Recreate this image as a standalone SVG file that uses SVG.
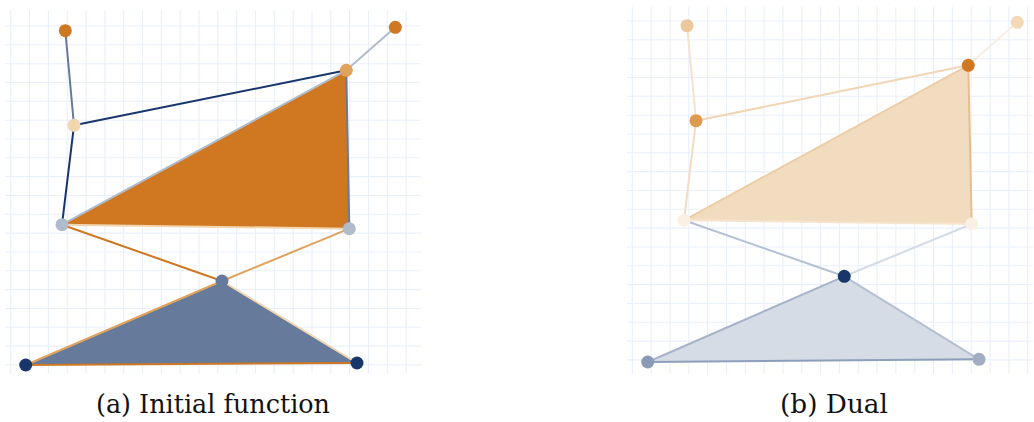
<svg xmlns="http://www.w3.org/2000/svg" width="1034" height="422" viewBox="0 0 1034 422">
<style>
.grid{fill:none;stroke:#e9f0fb;stroke-width:1.1}
.e{fill:none;stroke-width:2;stroke-linecap:round}
</style>
<rect width="1034" height="422" fill="#fff"/>
<g id="grid-a" class="grid">
<path d="M10.7 10V374M29.5 10V374M48.4 10V374M67.2 10V374M86 10V374M104.9 10V374M123.7 10V374M142.5 10V374M161.3 10V374M180.2 10V374M199 10V374M217.8 10V374M236.7 10V374M255.5 10V374M274.3 10V374M293.2 10V374M312 10V374M330.8 10V374M349.6 10V374M368.5 10V374M387.3 10V374M406.1 10V374"/>
<path d="M5 26H421M5 44.8H421M5 63.7H421M5 82.5H421M5 101.3H421M5 120.2H421M5 139H421M5 157.8H421M5 176.6H421M5 195.5H421M5 214.3H421M5 233.1H421M5 252H421M5 270.8H421M5 289.6H421M5 308.5H421M5 327.3H421M5 346.1H421M5 364.9H421"/>
</g>
<g id="grid-b" class="grid">
<path d="M632.3 6.7V374M651.1 6.7V374M670 6.7V374M688.8 6.7V374M707.6 6.7V374M726.5 6.7V374M745.3 6.7V374M764.1 6.7V374M782.9 6.7V374M801.8 6.7V374M820.6 6.7V374M839.4 6.7V374M858.3 6.7V374M877.1 6.7V374M895.9 6.7V374M914.8 6.7V374M933.6 6.7V374M952.4 6.7V374M971.2 6.7V374M990.1 6.7V374M1008.9 6.7V374M1027.7 6.7V374"/>
<path d="M627 21H1033M627 39.8H1033M627 58.7H1033M627 77.5H1033M627 96.3H1033M627 115.2H1033M627 134H1033M627 152.8H1033M627 171.6H1033M627 190.5H1033M627 209.3H1033M627 228.1H1033M627 247H1033M627 265.8H1033M627 284.6H1033M627 303.5H1033M627 322.3H1033M627 341.1H1033M627 359.9H1033"/>
</g>
<g id="faces">
<polygon id="face-a1" points="346.3,70.3 62,224.7 349.3,228.7" fill="#cf7721"/>
<polygon id="face-a2" points="222,281 25.7,365 357,363" fill="#667a9b"/>
<polygon id="face-b1" points="968.3,65.3 684,220.3 971.7,224" fill="#f2dcc0"/>
<polygon id="face-b2" points="844.3,276.3 647.7,362 979,359.3" fill="#d5dce6"/>
</g>
<g id="connectors">
<line class="e" x1="65.3" y1="30.7" x2="74" y2="125.3" stroke="#667a9b"/>
<line class="e" x1="395.3" y1="27.3" x2="346.3" y2="70.3" stroke="#b0bccc"/>
<line class="e" x1="74" y1="125.3" x2="346.3" y2="70.3" stroke="#19366a"/>
<line class="e" x1="74" y1="125.3" x2="62" y2="224.7" stroke="#19366a"/>
<line class="e" x1="346.3" y1="70.3" x2="62" y2="224.7" stroke="#b0bccc"/>
<line class="e" x1="346.3" y1="70.3" x2="349.3" y2="228.7" stroke="#667a9b"/>
<line class="e" x1="62" y1="224.7" x2="349.3" y2="228.7" stroke="#f2d6b0"/>
<line class="e" x1="62" y1="224.7" x2="222" y2="281" stroke="#cf7721"/>
<line class="e" x1="349.3" y1="228.7" x2="222" y2="281" stroke="#e0a35d"/>
<line class="e" x1="222" y1="281" x2="25.7" y2="365" stroke="#e0a35d"/>
<line class="e" x1="222" y1="281" x2="357" y2="363" stroke="#f2d6b0"/>
<line class="e" x1="25.7" y1="365" x2="357" y2="363" stroke="#cf7721"/>

<line class="e" x1="687" y1="25.7" x2="696" y2="120.7" stroke="#f5e3cf"/>
<line class="e" x1="1017.3" y1="22.3" x2="968.3" y2="65.3" stroke="#f8ecdf"/>
<line class="e" x1="696" y1="120.7" x2="968.3" y2="65.3" stroke="#f0d6b4"/>
<line class="e" x1="696" y1="120.7" x2="684" y2="220.3" stroke="#f3dcc2"/>
<line class="e" x1="968.3" y1="65.3" x2="684" y2="220.3" stroke="#eccda6"/>
<line class="e" x1="968.3" y1="65.3" x2="971.7" y2="224" stroke="#e8bd8a"/>
<line class="e" x1="684" y1="220.3" x2="971.7" y2="224" stroke="#f6e4cf"/>
<line class="e" x1="684" y1="220.3" x2="844.3" y2="276.3" stroke="#b4c0d3"/>
<line class="e" x1="971.7" y1="224" x2="844.3" y2="276.3" stroke="#d3dbe7"/>
<line class="e" x1="844.3" y1="276.3" x2="647.7" y2="362" stroke="#a6b3c8"/>
<line class="e" x1="844.3" y1="276.3" x2="979" y2="359.3" stroke="#b5c0d2"/>
<line class="e" x1="647.7" y1="362" x2="979" y2="359.3" stroke="#8e9fba"/>
</g>
<g id="node-a1"><circle cx="65.3" cy="30.7" r="6.5" fill="#cf7721"/></g>
<g id="node-a2"><circle cx="395.3" cy="27.3" r="6.5" fill="#cf7721"/></g>
<g id="node-a3"><circle cx="346.3" cy="70.3" r="6.5" fill="#e0a35d"/></g>
<g id="node-a4"><circle cx="74" cy="125.3" r="6.5" fill="#f2d6b0"/></g>
<g id="node-a5"><circle cx="62" cy="224.7" r="6.5" fill="#b0bccc"/></g>
<g id="node-a6"><circle cx="349.3" cy="228.7" r="6.5" fill="#b0bccc"/></g>
<g id="node-a7"><circle cx="222" cy="281" r="6.5" fill="#667a9b"/></g>
<g id="node-a8"><circle cx="25.7" cy="365" r="6.5" fill="#19366a"/></g>
<g id="node-a9"><circle cx="357" cy="363" r="6.5" fill="#19366a"/></g>

<g id="node-b1"><circle cx="687" cy="25.7" r="6.5" fill="#ebc89c"/></g>
<g id="node-b2"><circle cx="1017.3" cy="22.3" r="6.5" fill="#f2d9b8"/></g>
<g id="node-b3"><circle cx="968.3" cy="65.3" r="6.5" fill="#cf7721"/></g>
<g id="node-b4"><circle cx="696" cy="120.7" r="6.5" fill="#de9a4e"/></g>
<g id="node-b5"><circle cx="684" cy="220.3" r="6.5" fill="#fbf0e4"/></g>
<g id="node-b6"><circle cx="971.7" cy="224" r="6.5" fill="#fbf0e4"/></g>
<g id="node-b7"><circle cx="844.3" cy="276.3" r="6.5" fill="#19366a"/></g>
<g id="node-b8"><circle cx="647.7" cy="362" r="6.5" fill="#8a9ab5"/></g>
<g id="node-b9"><circle cx="979" cy="359.3" r="6.5" fill="#a0adc3"/></g>

<g id="captions" fill="#111">
<text x="96" y="413.3" font-family="DejaVu Serif" font-size="26" textLength="234" lengthAdjust="spacingAndGlyphs">(a) Initial function</text>
<text x="780" y="413.3" font-family="DejaVu Serif" font-size="26" textLength="108" lengthAdjust="spacingAndGlyphs">(b) Dual</text>
</g>
</svg>
